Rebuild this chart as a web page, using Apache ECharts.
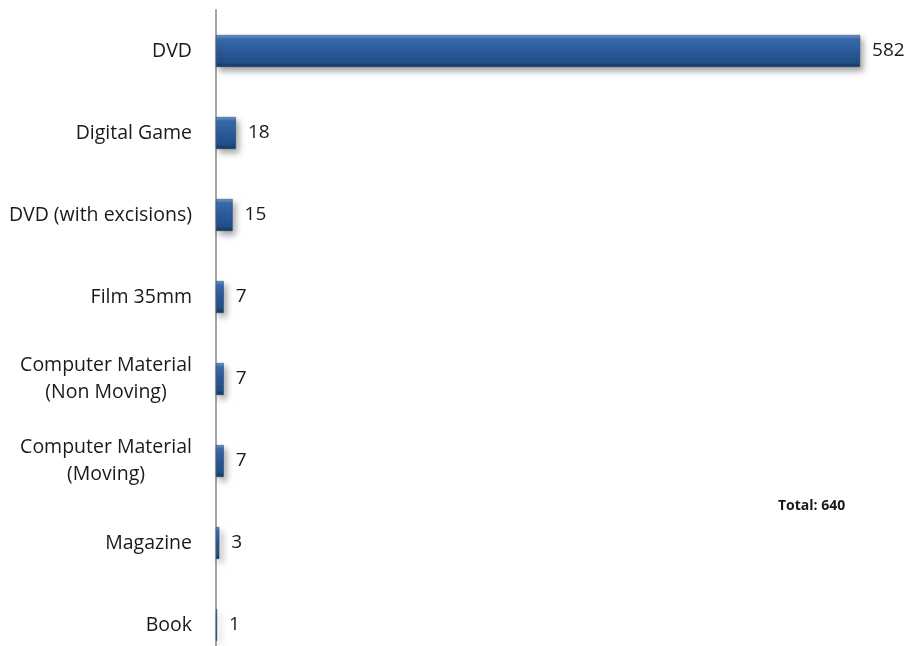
<!DOCTYPE html>
<html>
<head>
<meta charset="utf-8">
<script src="https://cdn.jsdelivr.net/npm/echarts@6/dist/echarts.min.js"></script>
<style>
  html, body { margin: 0; padding: 0; background: #ffffff; overflow: hidden; }
  /* the chart runs slightly past the lower window edge, so the last band is cut */
  #chart { width: 911px; height: 666px; }
</style>
</head>
<body>
<div id="chart"></div>
<script>
// Item counts by format
const categories = [
  'DVD',
  'Digital Game',
  'DVD (with excisions)',
  'Film 35mm',
  'Computer Material\n(Non Moving)',
  'Computer Material\n(Moving)',
  'Magazine',
  'Book'
];
const counts = [582, 18, 15, 7, 7, 7, 3, 1];
const totalText = 'Total: 640';

const FONT = '"Open Sans", Lato, sans-serif';

const chart = echarts.init(document.getElementById('chart'));

// Bevelled bar fill: light top edge, dark lower edge
const barFill = new echarts.graphic.LinearGradient(0, 0, 0, 1, [
  { offset: 0.00, color: '#6d9ad3' },
  { offset: 0.12, color: '#3a6cae' },
  { offset: 0.45, color: '#2c5c9c' },
  { offset: 0.85, color: '#234f88' },
  { offset: 1.00, color: '#15345c' }
]);

chart.setOption({
  backgroundColor: '#ffffff',
  animation: false,
  grid: { left: 216, right: 31, top: 10, bottom: 0 },
  xAxis: {
    type: 'value',
    min: 0,
    max: 600,
    show: false
  },
  yAxis: {
    type: 'category',
    inverse: true,
    data: categories,
    axisLine: { show: true, lineStyle: { color: '#a6a6a6', width: 2 } },
    axisTick: { show: false },
    axisLabel: {
      margin: 24,
      color: '#1a1a1a',
      fontFamily: FONT,
      fontSize: 19.5,
      lineHeight: 27,
      formatter: function (v) {
        return v.indexOf('\n') >= 0 ? '{m|' + v + '}' : v;
      },
      rich: {
        m: {
          width: 172,
          align: 'center',
          color: '#1a1a1a',
          fontFamily: FONT,
          fontSize: 19.5,
          lineHeight: 27
        }
      }
    }
  },
  series: [{
    type: 'bar',
    data: counts,
    barWidth: 32,
    itemStyle: {
      color: barFill,
      borderColor: '#1d4272',
      borderWidth: 0.5,
      shadowColor: 'rgba(0,0,0,0.35)',
      shadowBlur: 6,
      shadowOffsetX: 3,
      shadowOffsetY: 4
    },
    label: {
      show: true,
      position: 'right',
      distance: 12,
      color: '#1a1a1a',
      fontFamily: FONT,
      fontSize: 19
    }
  }],
  graphic: [{
    type: 'text',
    left: 778,
    top: 499,
    style: {
      text: totalText,
      fill: '#1a1a1a',
      font: 'bold 14px ' + FONT
    }
  }]
});
</script>
</body>
</html>
